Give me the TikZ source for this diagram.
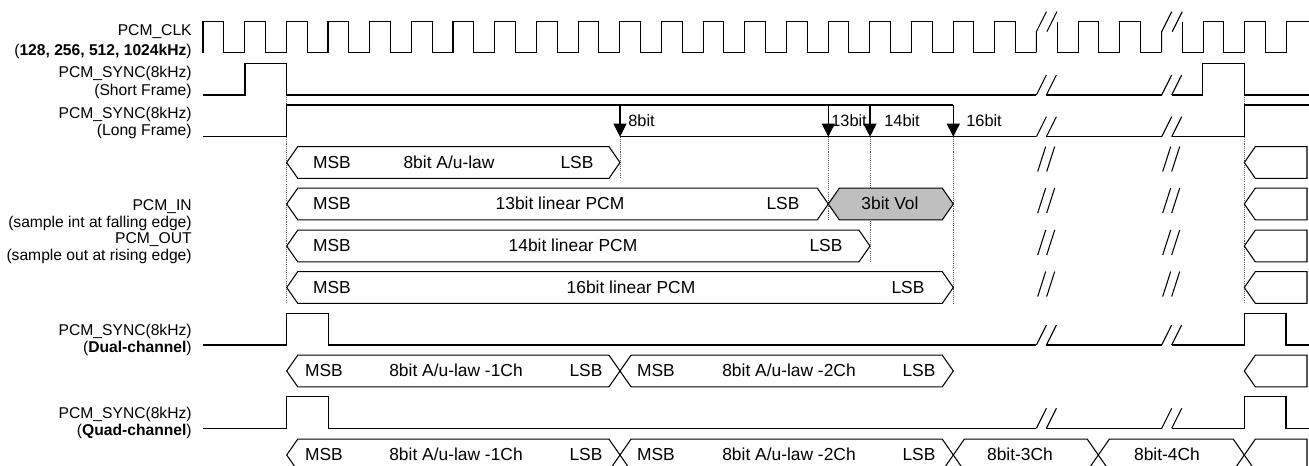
\documentclass[tikz,border=0pt]{standalone}
\usepackage{fontspec}
\setmainfont{Liberation Sans}
\usetikzlibrary{arrows.meta}

\tikzset{
  sig/.style={line width=0.6pt, black},
  busbox/.style={line width=0.6pt, black, fill=white},
  guide/.style={line width=0.45pt, black!65, dash pattern=on 0.6pt off 0.6pt},
  lbl/.style={anchor=east, inner sep=0pt, font=\fontsize{8.9}{10}\selectfont, text height=7pt, text depth=0.6pt},
  bustxt/.style={inner sep=0pt, font=\fontsize{9.9}{11}\selectfont, text height=7.4pt, text depth=0.6pt},
  bittxt/.style={inner sep=0pt, anchor=west, font=\fontsize{9.3}{10}\selectfont, text height=7pt, text depth=0.6pt},
  bitmark/.style={sig, -{Triangle[width=7.4pt,length=7.4pt]}},
}

% bus segment: [fill] x1 x2 centre
\newcommand{\pcmbus}[4][white]{%
  \draw[busbox, fill=#1] (#2,#4) -- ++(11,-15.8) -- ({#3-11},{#4-15.8}) -- (#3,#4)
    -- ({#3-11},{#4+15.8}) -- ({#2+11},{#4+15.8}) -- cycle;}
% bus segment running off the right edge
\newcommand{\pcmtail}[2]{%
  \draw[busbox] (#1,#2) -- ++(11,-15.8) -- (1307,{#2-15.8}) -- (1307,{#2+15.8})
    -- ({#1+11},{#2+15.8}) -- cycle;}
% break on a level line
\newcommand{\pcmcut}[2]{%
  \draw[sig] (#1,#2) -- ++(10,-20) ({#1+10},#2) -- ++(10,-20);}
% break mark on a bus row
\newcommand{\pcmgap}[2]{%
  \draw[sig] ({#1+1},{#2+9}) -- ++(8,-25) ({#1+10},{#2+9}) -- ++(8,-25);}

\begin{document}
\begin{tikzpicture}[x=0.02cm, y=-0.02cm]
  \useasboundingbox (0,0) rectangle (1309,466);
  \clip (0,0) rectangle (1309,466);

  % Signal names
  \node[lbl] (nclk)  at (192,30)    {PCM\_CLK};
  \node[lbl] (nclkf) at (192,50)    {(\textbf{128, 256, 512, 1024kHz})};
  \node[lbl] (nsf)   at (192,71.7)  {PCM\_SYNC(8kHz)};
  \node[lbl] (nsfb)  at (192,90)    {(Short Frame)};
  \node[lbl] (nlf)   at (192,113.3) {PCM\_SYNC(8kHz)};
  \node[lbl] (nlfb)  at (192,130)   {(Long Frame)};
  \node[lbl] (nin)   at (192,205)   {PCM\_IN};
  \node[lbl] (ninb)  at (192,221.7) {(sample int at falling edge)};
  \node[lbl] (nout)  at (192,238.3) {PCM\_OUT};
  \node[lbl] (noutb) at (192,255)   {(sample out at rising edge)};
  \node[lbl] (ndual) at (192,330)   {PCM\_SYNC(8kHz)};
  \node[lbl] (nduab) at (192,346.7) {(\textbf{Dual-channel})};
  \node[lbl] (nquad) at (192,413.3) {PCM\_SYNC(8kHz)};
  \node[lbl] (nquab) at (192,430)   {(\textbf{Quad-channel})};

  % Clock
  \foreach \k in {0,...,19,21,22,24,25} {
    \draw[sig] ({203+41.67*\k},52.7) -- ++(0,-31) -- ++(20.83,0) -- ++(0,31) -- ++(20.84,0);
  }
  \foreach \x in {1036.4,1161.7} {
    \draw[sig] (\x,52.7) -- (\x,31.7) -- ++(10,-20);
    \draw[sig] ({\x+10.5},31.7) -- ++(10,-20);
    \draw[sig] ({\x+20.83},21.7) -- ++(0,31) -- ++(20.84,0);
  }
  \draw[sig] (1286.4,52.7) -- ++(0,-31) -- (1309,21.7);

  % Guides
  \draw[guide] (286.7,95) -- (286.7,303.3);
  \draw[guide] (620,136.7) -- (620,178.3);
  \draw[guide] (828.3,136.7) -- (828.3,220);
  \draw[guide] (870,136.7) -- (870,262);
  \draw[guide] (953.3,136.7) -- (953.3,303.3);
  \draw[guide] (1244.3,95) -- (1244.3,303.3);

  % Short frame sync
  \draw[sig] (203,95) -- (245,95) -- (245,63.3) -- (286.7,63.3) -- (286.7,95) -- (1036.4,95);
  \pcmcut{1036.4}{95}
  \draw[sig] (1046.4,95) -- (1161.7,95);
  \pcmcut{1161.7}{95}
  \draw[sig] (1171.7,95) -- (1202.7,95) -- (1202.7,63.3) -- (1244.3,63.3) -- (1244.3,95) -- (1309,95);

  % Long frame sync
  \draw[sig] (203,136.7) -- (286.7,136.7) -- (286.7,105) -- (953.3,105);
  \foreach \x in {620,828.3,870,953.3}
    \draw[bitmark] (\x,105) -- (\x,136.7);
  \node[bittxt] (t8)  at (628,121) {8bit};
  \node[bittxt] (t13) at (831,121) {13bit};
  \node[bittxt] (t14) at (884,121) {14bit};
  \node[bittxt] (t16) at (966,121) {16bit};
  \draw[sig] (620,136.7) -- (1036.4,136.7);
  \pcmcut{1036.4}{136.7}
  \draw[sig] (1046.4,136.7) -- (1161.7,136.7);
  \pcmcut{1161.7}{136.7}
  \draw[sig] (1171.7,136.7) -- (1244.3,136.7) -- (1244.3,105) -- (1309,105);

  % Data words
  \pcmbus{286.7}{620}{162.5}
  \pcmbus{286.7}{828.3}{204}
  \pcmbus[black!25]{828.3}{953.3}{204}
  \pcmbus{286.7}{870}{246}
  \pcmbus{286.7}{953.3}{287.5}
  \foreach \y in {162.5,204,246,287.5} {
    \pcmgap{1036.7}{\y}
    \pcmgap{1161.7}{\y}
    \pcmtail{1244.3}{\y}
  }
  \node[bustxt] (w8m)  at (332,162.5) {MSB};
  \node[bustxt] (w8)   at (449,162.5) {8bit A/u-law};
  \node[bustxt] (w8l)  at (577,162.5) {LSB};
  \node[bustxt] (w13m) at (332,204)   {MSB};
  \node[bustxt] (w13)  at (560,204)   {13bit linear PCM};
  \node[bustxt] (w13l) at (783,204)   {LSB};
  \node[bustxt] (wvol) at (890,204)   {3bit Vol};
  \node[bustxt] (w14m) at (332,246)   {MSB};
  \node[bustxt] (w14)  at (573,246)   {14bit linear PCM};
  \node[bustxt] (w14l) at (826,246)   {LSB};
  \node[bustxt] (w16m) at (332,287.5) {MSB};
  \node[bustxt] (w16)  at (631,287.5) {16bit linear PCM};
  \node[bustxt] (w16l) at (908,287.5) {LSB};

  % Dual and quad channel sync
  \foreach \lo/\hi in {345/313.3, 428.3/396.7} {
    \draw[sig] (203,\lo) -- (286.7,\lo) -- (286.7,\hi) -- (328.3,\hi) -- (328.3,\lo) -- (1036.4,\lo);
    \pcmcut{1036.4}{\lo}
    \draw[sig] (1046.4,\lo) -- (1161.7,\lo);
    \pcmcut{1161.7}{\lo}
    \draw[sig] (1171.7,\lo) -- (1244.3,\lo) -- (1244.3,\hi) -- (1286,\hi) -- (1286,\lo) -- (1309,\lo);
  }

  % Dual channel data
  \pcmbus{286.7}{620}{371}
  \pcmbus{620}{953.3}{371}
  \pcmtail{1244.3}{371}

  % Quad channel data
  \pcmbus{286.7}{620}{455}
  \pcmbus{620}{953.3}{455}
  \pcmbus{953.3}{1098.3}{455}
  \pcmbus{1098.3}{1244.3}{455}
  \pcmtail{1244.3}{455}

  \foreach \y/\r in {371/d, 455/q} {
    \node[bustxt] (\r1m) at (324,\y) {MSB};
    \node[bustxt] (\r1)  at (456,\y) {8bit A/u-law -1Ch};
    \node[bustxt] (\r1l) at (586,\y) {LSB};
    \node[bustxt] (\r2m) at (656,\y) {MSB};
    \node[bustxt] (\r2)  at (789,\y) {8bit A/u-law -2Ch};
    \node[bustxt] (\r2l) at (919,\y) {LSB};
  }
  \node[bustxt] (q3) at (1020,455) {8bit-3Ch};
  \node[bustxt] (q4) at (1167,455) {8bit-4Ch};
\end{tikzpicture}
\end{document}
